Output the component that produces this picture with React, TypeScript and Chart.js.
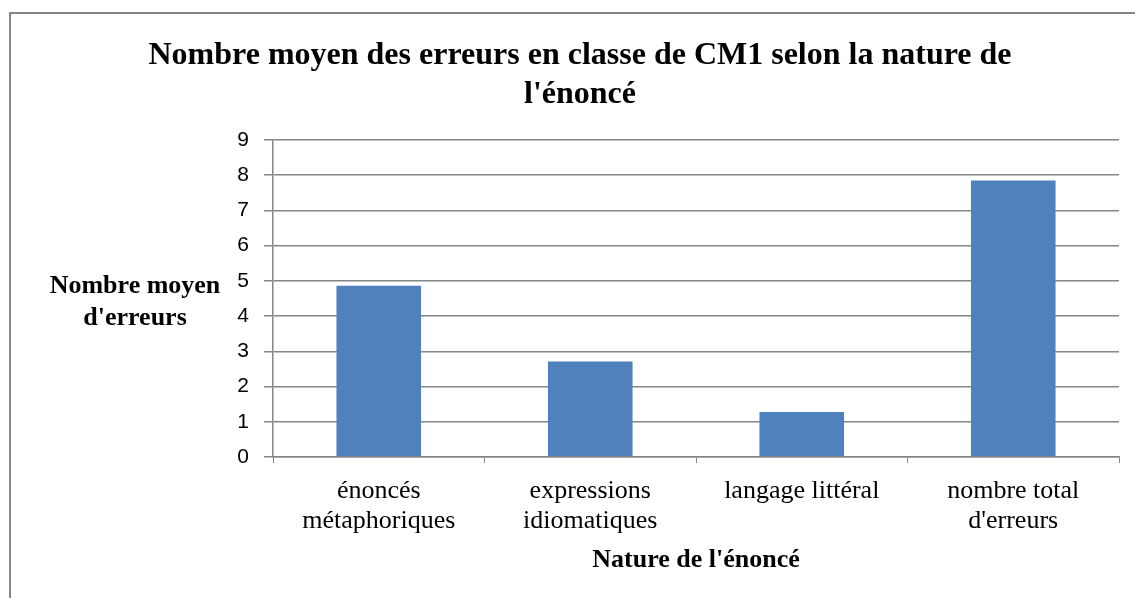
import React, { useEffect, useRef } from "react";
import { Chart, registerables } from "chart.js";

Chart.register(...registerables);

const categories: string[][] = [
  ["énoncés", "métaphoriques"],
  ["expressions", "idiomatiques"],
  ["langage littéral"],
  ["nombre total", "d'erreurs"],
];
const values: number[] = [4.86, 2.71, 1.28, 7.85];
const titleLines: string[] = ["Nombre moyen des erreurs en classe de CM1 selon la nature de", "l'énoncé"];
const yTitleLines: string[] = ["Nombre moyen", "d'erreurs"];
const xTitle = "Nature de l'énoncé";

const SERIF = "'Liberation Serif', 'Times New Roman', serif";
const SANS = "'Liberation Sans', Arial, sans-serif";

const decorPlugin = {
  id: "decor",
  beforeDraw(chart: any) {
    const ctx = chart.ctx;
    ctx.save();
    ctx.fillStyle = "#ffffff";
    ctx.fillRect(0, 0, chart.width, chart.height);
    ctx.strokeStyle = "#868686";
    ctx.lineWidth = 2;
    ctx.beginPath();
    ctx.moveTo(10, chart.height + 5);
    ctx.lineTo(10, 13);
    ctx.lineTo(chart.width + 5, 13);
    ctx.stroke();
    ctx.restore();
  },
  afterDraw(chart: any) {
    const ctx = chart.ctx;
    const area = chart.chartArea;
    ctx.save();
    ctx.fillStyle = "#000000";
    ctx.textAlign = "center";
    ctx.textBaseline = "middle";
    ctx.font = `bold 32px ${SERIF}`;
    ctx.fillText(titleLines[0], 580, 56);
    ctx.fillText(titleLines[1], 580, 95);
    ctx.font = `bold 26px ${SERIF}`;
    ctx.fillText(yTitleLines[0], 135, 286);
    ctx.fillText(yTitleLines[1], 135, 318);
    ctx.fillText(xTitle, (area.left + area.right) / 2, 560);
    ctx.restore();
  },
};

export default function App() {
  const ref = useRef<HTMLCanvasElement | null>(null);
  useEffect(() => {
    document.body.style.margin = "0";
    if (!ref.current) return;
    const chart = new Chart(ref.current, {
      type: "bar",
      data: {
        labels: categories,
        datasets: [
          {
            data: values,
            backgroundColor: "#4F81BD",
            borderWidth: 0,
            categoryPercentage: 1,
            barPercentage: 0.4,
          },
        ],
      },
      options: {
        animation: false,
        responsive: false,
        maintainAspectRatio: false,
        layout: { padding: { top: 140, left: 0, right: 16, bottom: 0 } },
        plugins: {
          legend: { display: false },
          title: { display: false },
          tooltip: { enabled: false },
        },
        scales: {
          x: {
            afterFit(scale: any) {
              scale.height = 598 - 457;
            },
            grid: {
              display: true,
              drawOnChartArea: false,
              drawTicks: true,
              tickLength: 6,
              color: "#868686",
              lineWidth: 1,
              offset: true,
            },
            border: { display: true, color: "#868686", width: 1.5 },
            ticks: {
              color: "#000000",
              font: { family: SERIF, size: 26, lineHeight: 1.15 },
              padding: 13,
              maxRotation: 0,
              autoSkip: false,
            },
          },
          y: {
            min: 0,
            max: 9,
            afterFit(scale: any) {
              scale.width = 273;
            },
            grid: {
              color: "#868686",
              lineWidth: 1.5,
              drawTicks: true,
              tickLength: 9,
            },
            border: { display: true, color: "#868686", width: 1.5 },
            ticks: {
              stepSize: 1,
              color: "#000000",
              font: { family: SANS, size: 21 },
              padding: 15,
            },
          },
        },
      },
      plugins: [decorPlugin],
    });
    return () => chart.destroy();
  }, []);
  return (
    <div style={{ position: "fixed", left: 0, top: 0, width: 1135, height: 598 }}>
      <canvas ref={ref} width={1135} height={598} style={{ width: 1135, height: 598 }} />
    </div>
  );
}
